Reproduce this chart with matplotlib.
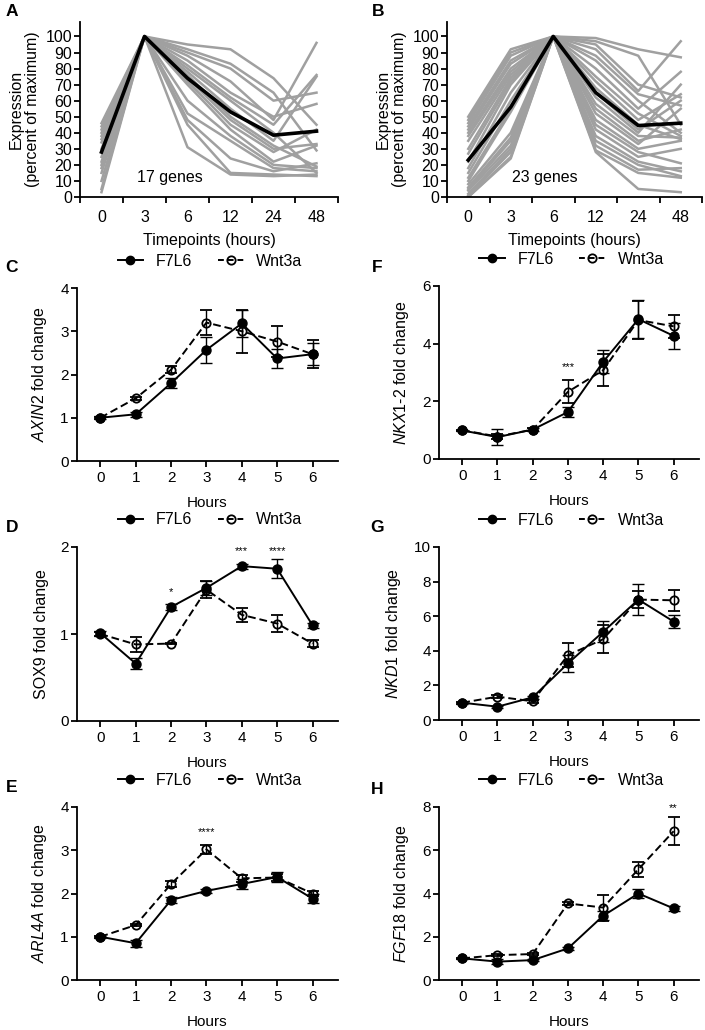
import numpy as np
import matplotlib.pyplot as plt
import matplotlib
from matplotlib.lines import Line2D

matplotlib.rcParams.update({'font.family': 'Liberation Sans', 'font.size': 10,
                            'mathtext.fontset': 'custom',
                            'mathtext.it': 'Liberation Sans:italic',
                            'mathtext.rm': 'Liberation Sans',
                            'axes.linewidth': 1.3})

# ---- panels A/B: expression profiles (percent of maximum) ----
timepoints = ['0', '3', '6', '12', '24', '48']

genes_a = [
    [46, 100, 95, 92, 74, 45],
    [44, 100, 92, 83, 65, 29],
    [42, 100, 90, 80, 60, 65],
    [40, 100, 88, 72, 48, 96],
    [38, 100, 85, 65, 50, 58],
    [36, 100, 82, 62, 45, 76],
    [34, 100, 80, 60, 40, 15],
    [30, 100, 78, 55, 35, 75],
    [28, 100, 76, 50, 32, 19],
    [25, 100, 74, 48, 30, 33],
    [22, 100, 72, 45, 28, 42],
    [20, 100, 70, 42, 22, 32],
    [18, 100, 60, 38, 20, 18],
    [15, 100, 52, 35, 18, 16],
    [10, 100, 48, 24, 16, 21],
    [5, 100, 45, 15, 14, 13],
    [3, 100, 31, 14, 13, 14],
]
mean_a = [28, 100, 74, 53, 38.5, 41]

genes_b = [
    [50, 92, 100, 99, 92, 87],
    [48, 90, 100, 97, 88, 45],
    [46, 88, 100, 95, 70, 62],
    [44, 85, 100, 92, 66, 97],
    [42, 83, 100, 88, 64, 57],
    [40, 80, 100, 85, 60, 40],
    [38, 78, 100, 80, 55, 78],
    [35, 76, 100, 75, 52, 38],
    [30, 74, 100, 72, 48, 64],
    [27, 72, 100, 68, 45, 36],
    [22, 70, 100, 65, 42, 60],
    [18, 65, 100, 62, 40, 70],
    [15, 60, 100, 58, 38, 37],
    [12, 55, 100, 55, 35, 42],
    [10, 53, 100, 52, 33, 55],
    [8, 40, 100, 48, 30, 35],
    [6, 37, 100, 45, 28, 21],
    [5, 35, 100, 42, 25, 30],
    [4, 32, 100, 38, 22, 16],
    [2, 30, 100, 35, 20, 13],
    [1, 28, 100, 32, 17, 18],
    [0, 25, 100, 29, 15, 12],
    [0, 24, 100, 28, 5, 3],
]
mean_b = [23, 56, 100, 65, 44.5, 46]

# ---- panels C-H: fold change, mean +/- error ----
hours = [0, 1, 2, 3, 4, 5, 6]

axin2_f7l6 = [1.0, 1.08, 1.80, 2.57, 3.18, 2.37, 2.47]
axin2_f7l6_err = [0.03, 0.06, 0.12, 0.30, 0.32, 0.22, 0.25]
axin2_wnt = [1.0, 1.45, 2.11, 3.20, 3.00, 2.76, 2.47]
axin2_wnt_err = [0.02, 0.04, 0.08, 0.28, 0.50, 0.35, 0.33]

sox9_f7l6 = [1.01, 0.66, 1.31, 1.53, 1.78, 1.75, 1.10]
sox9_f7l6_err = [0.03, 0.06, 0.03, 0.08, 0.03, 0.11, 0.03]
sox9_wnt = [1.0, 0.88, 0.89, 1.51, 1.22, 1.12, 0.89]
sox9_wnt_err = [0.02, 0.09, 0.01, 0.10, 0.08, 0.10, 0.04]

arl4a_f7l6 = [1.0, 0.85, 1.85, 2.06, 2.22, 2.38, 1.88]
arl4a_f7l6_err = [0.02, 0.08, 0.08, 0.05, 0.12, 0.12, 0.10]
arl4a_wnt = [1.0, 1.27, 2.22, 3.02, 2.35, 2.37, 2.0]
arl4a_wnt_err = [0.02, 0.03, 0.06, 0.10, 0.08, 0.08, 0.06]

nkx12_f7l6 = [0.99, 0.76, 1.02, 1.63, 3.37, 4.85, 4.27]
nkx12_f7l6_err = [0.03, 0.27, 0.05, 0.17, 0.40, 0.67, 0.46]
nkx12_wnt = [1.0, 0.78, 1.02, 2.33, 3.08, 4.82, 4.60]
nkx12_wnt_err = [0.02, 0.10, 0.04, 0.40, 0.55, 0.65, 0.40]

nkd1_f7l6 = [1.0, 0.77, 1.31, 3.27, 5.10, 6.96, 5.69]
nkd1_f7l6_err = [0.05, 0.05, 0.10, 0.50, 0.60, 0.90, 0.40]
nkd1_wnt = [1.0, 1.35, 1.08, 3.75, 4.67, 6.96, 6.92]
nkd1_wnt_err = [0.05, 0.10, 0.10, 0.70, 0.80, 0.50, 0.60]

fgf18_f7l6 = [1.0, 0.85, 0.92, 1.46, 2.97, 4.00, 3.31]
fgf18_f7l6_err = [0.03, 0.10, 0.05, 0.08, 0.20, 0.20, 0.10]
fgf18_wnt = [1.0, 1.15, 1.20, 3.54, 3.35, 5.12, 6.88]
fgf18_wnt_err = [0.03, 0.05, 0.05, 0.05, 0.60, 0.35, 0.65]


def px(x, y, w, h):
    '''pixel box (left, top, right, bottom) -> figure fraction rect'''
    return [x / 705, 1 - h / 1030, (w - x) / 705, (h - y) / 1030]


def draw_profiles(ax, genes, mean, text, text_x):
    x = np.arange(len(timepoints))
    for g in genes:
        ax.plot(x, g, color='#a0a0a0', lw=1.8)
    ax.plot(x, mean, color='black', lw=2.6)
    ax.text(text_x, 12, text, ha='center', va='center', fontsize=11.5)
    ax.set_xlim(-0.5, 5.5)
    ax.set_ylim(0, 109)
    ax.set_yticks(np.arange(0, 101, 10))
    ax.set_xticks(x)
    ax.set_xticklabels(timepoints, fontsize=11.5)
    ax.set_xticks(np.arange(-0.5, 6, 1), minor=True)
    ax.tick_params(axis='x', which='major', length=0, pad=9)
    ax.tick_params(axis='x', which='minor', length=4, width=1.3, direction='out')
    ax.tick_params(axis='y', length=4, width=1.3, pad=1.5, labelsize=11.5)
    ax.set_xlabel('Timepoints (hours)', fontsize=11.5, labelpad=6)
    ax.set_ylabel('Expression\n(percent of maximum)', fontsize=11.5, labelpad=4,
                  linespacing=1.1)
    for s in ['top', 'right']:
        ax.spines[s].set_visible(False)


def draw_fold(ax, f7, f7err, wnt, wnterr, ymax, ystep, ylabel, stars):
    ax.errorbar(hours, wnt, yerr=wnterr, color='black', lw=1.4, ls='--',
                marker='o', ms=6, mfc='none', mec='black', mew=1.3,
                capsize=4, elinewidth=1.0, capthick=1.0, dashes=(4, 2))
    ax.errorbar(hours, f7, yerr=f7err, color='black', lw=1.4, ls='-',
                marker='o', ms=6.5, mfc='black', mec='black',
                capsize=4, elinewidth=1.0, capthick=1.0)
    for h, y, s in stars:
        ax.text(h, y, s, ha='center', va='center', fontsize=8)
    ax.set_xlim(-0.66, 6.72)
    ax.set_ylim(0, ymax)
    ax.set_xticks(hours)
    ax.set_yticks(np.arange(0, ymax + 0.01, ystep))
    ax.tick_params(axis='y', length=4.5, width=1.3, pad=1.5, labelsize=11)
    ax.tick_params(axis='x', length=4, width=1.3, pad=3, labelsize=11)
    ax.set_xlabel('Hours', fontsize=11, labelpad=8)
    ax.set_ylabel(ylabel, fontsize=11.5, labelpad=8)
    for s in ['top', 'right']:
        ax.spines[s].set_visible(False)
    handles = [Line2D([], [], color='black', lw=1.4, marker='o', ms=6),
               Line2D([], [], color='black', lw=1.4, ls='--', dashes=(3, 2),
                      marker='o', ms=6, mfc='none', mew=1.3)]
    ax.legend(handles, ['F7L6', 'Wnt3a'], loc='center',
              bbox_to_anchor=(0.51, 1.156), ncol=2, frameon=False,
              fontsize=11.5, handlelength=1.6, handletextpad=0.8,
              columnspacing=1.6, borderaxespad=0)


fig = plt.figure(figsize=(7.05, 10.3), dpi=100)

ax_a = fig.add_axes(px(80, 22, 338, 197))
draw_profiles(ax_a, genes_a, mean_a, '17 genes', 1.6)
ax_b = fig.add_axes(px(447, 22, 702, 197))
draw_profiles(ax_b, genes_b, mean_b, '23 genes', 1.8)

ax_c = fig.add_axes(px(77, 288, 338, 461))
draw_fold(ax_c, axin2_f7l6, axin2_f7l6_err, axin2_wnt, axin2_wnt_err, 4, 1,
          r'$\mathit{AXIN2}$ fold change', [])
ax_d = fig.add_axes(px(77, 547, 338, 721))
draw_fold(ax_d, sox9_f7l6, sox9_f7l6_err, sox9_wnt, sox9_wnt_err, 2, 1,
          'SOX9 fold change', [(2, 1.48, '*'), (4, 1.95, '***'), (5, 1.95, '****')])
ax_e = fig.add_axes(px(77, 807, 338, 980))
draw_fold(ax_e, arl4a_f7l6, arl4a_f7l6_err, arl4a_wnt, arl4a_wnt_err, 4, 1,
          r'$\mathit{ARL4A}$ fold change', [(3, 3.42, '****')])
ax_f = fig.add_axes(px(439, 286, 699, 459))
draw_fold(ax_f, nkx12_f7l6, nkx12_f7l6_err, nkx12_wnt, nkx12_wnt_err, 6, 2,
          r'$\mathit{NKX1}$-$\mathit{2}$ fold change', [(3, 3.2, '***')])
ax_g = fig.add_axes(px(439, 547, 699, 720))
draw_fold(ax_g, nkd1_f7l6, nkd1_f7l6_err, nkd1_wnt, nkd1_wnt_err, 10, 2,
          r'$\mathit{NKD1}$ fold change', [])
ax_h = fig.add_axes(px(439, 807, 699, 980))
draw_fold(ax_h, fgf18_f7l6, fgf18_f7l6_err, fgf18_wnt, fgf18_wnt_err, 8, 2,
          r'$\mathit{FGF18}$ fold change', [(6, 7.95, '**')])

letters = [('A', 12, 11), ('B', 378, 11), ('C', 12, 268), ('F', 377, 268),
           ('D', 12, 528), ('G', 377, 528), ('E', 12, 788), ('H', 377, 789)]
for t, x, y in letters:
    fig.text(x / 705, 1 - y / 1030, t, fontsize=12.5, fontweight='bold',
             ha='center', va='center')

fig.savefig('out.png', dpi=100)
